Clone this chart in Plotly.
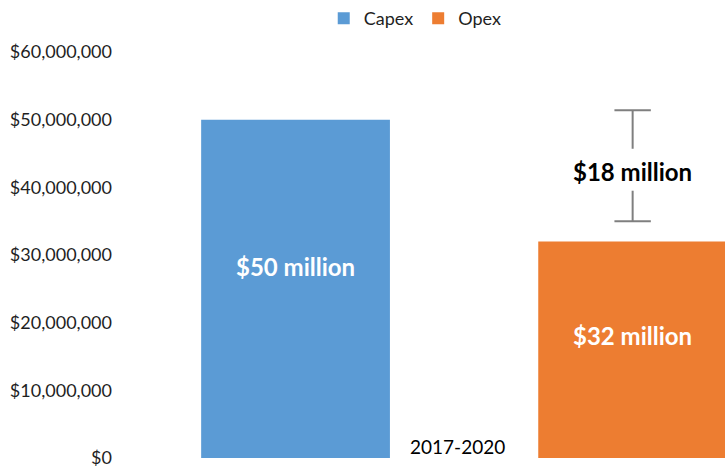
import plotly.graph_objects as go

# Spending over the period, in US dollars
period = ["2017-2020"]
series_names = ["Capex", "Opex"]
capex = [50_000_000]
opex = [32_000_000]
series_colors = ["#5B9BD5", "#ED7D31"]

y_ticks = [0, 10_000_000, 20_000_000, 30_000_000, 40_000_000, 50_000_000, 60_000_000]
y_tick_text = ["$0", "$10,000,000", "$20,000,000", "$30,000,000",
               "$40,000,000", "$50,000,000", "$60,000,000"]

FONT = "Lato"
TEXT_COLOR = "#1f1f1f"

def millions(v):
    return f"${v / 1_000_000:.0f} million"

fig = go.Figure()
for name, vals, color in zip(series_names, [capex, opex], series_colors):
    fig.add_trace(go.Bar(
        name=name, x=period, y=vals, marker_color=color,
        marker_line_width=0, hoverinfo="skip",
    ))

# value labels inside the bars
offsets = [-0.25, 0.25]
for vals, off in zip([capex, opex], offsets):
    fig.add_annotation(
        x=off, y=vals[0] * 0.565, xref="x", yref="y", text=millions(vals[0]),
        showarrow=False, font=dict(family=FONT, size=24, color="white", weight="bold"),
    )

# category label sits just above the baseline, between the bars
fig.add_annotation(
    x=period[0], y=0, xref="x", yref="y", text=period[0], showarrow=False,
    xshift=-7, yanchor="bottom", yshift=-2,
    font=dict(family=FONT, size=19, color="black"),
)

# bracket over the Opex bar showing the gap to Capex
gap = capex[0] - opex[0]
bx = 0.25
cap_half = 0.027
low, high = 35_000_000, 51_400_000
mid = low + (high - low) * 0.45
line_style = dict(color="#7F7F7F", width=2)
fig.add_shape(type="line", x0=bx - cap_half, x1=bx + cap_half, y0=high, y1=high,
              xref="x", yref="y", line=line_style)
fig.add_shape(type="line", x0=bx - cap_half, x1=bx + cap_half, y0=low, y1=low,
              xref="x", yref="y", line=line_style)
fig.add_shape(type="line", x0=bx, x1=bx, y0=high, y1=high - 5_700_000,
              xref="x", yref="y", line=line_style)
fig.add_shape(type="line", x0=bx, x1=bx, y0=low, y1=low + 4_500_000,
              xref="x", yref="y", line=line_style)
fig.add_annotation(
    x=bx, y=mid, xref="x", yref="y", text=millions(gap), showarrow=False,
    font=dict(family=FONT, size=24, color="black", weight="bold"),
)

fig.update_layout(
    width=725, height=468,
    margin=dict(l=127, r=0, t=52, b=8),
    paper_bgcolor="white", plot_bgcolor="white",
    barmode="group", bargap=0, bargroupgap=0.44,
    showlegend=True,
    legend=dict(orientation="h", x=0.482, y=1.083, xanchor="center", yanchor="middle",
                font=dict(family=FONT, size=18, color=TEXT_COLOR),
                itemwidth=30, traceorder="normal"),
    font=dict(family=FONT, size=18, color=TEXT_COLOR),
)
fig.update_xaxes(
    range=[-0.5, 0.387], showgrid=False, showline=False, zeroline=False,
    ticks="", showticklabels=False,
)
fig.update_yaxes(
    range=[0, 60_000_000], tickvals=y_ticks, ticktext=y_tick_text,
    showgrid=False, showline=False, zeroline=False, ticks="",
    ticklabelstandoff=14, ticklabeloverflow="allow",
    tickfont=dict(family=FONT, size=18, color=TEXT_COLOR),
)

fig.write_html("out.html")
